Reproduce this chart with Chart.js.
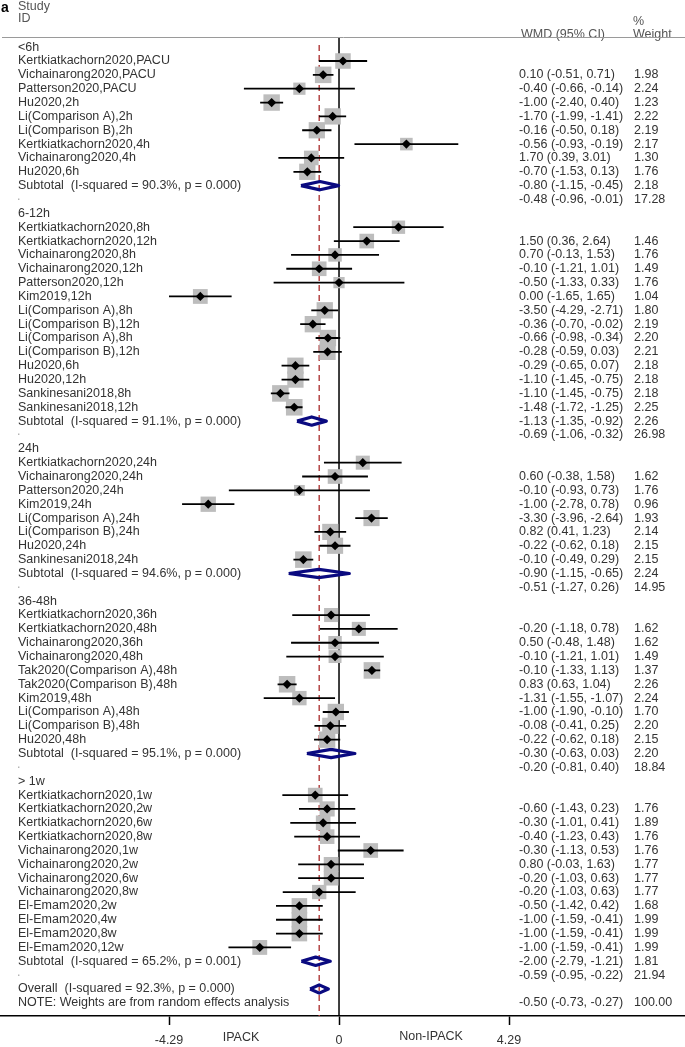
<!DOCTYPE html>
<html>
<head>
<meta charset="utf-8">
<script src="https://cdn.jsdelivr.net/npm/chart.js@4.4.1/dist/chart.umd.min.js"></script>
<style>
  html, body { margin: 0; padding: 0; background: #fff; }
  #wrap { position: relative; width: 685px; height: 1047px; }
</style>
</head>
<body>
<div id="wrap"><canvas id="forest" width="685" height="1047"></canvas></div>
<script>
// ---- data ----
var groupNames = ['<6h', '6-12h', '24h', '36-48h', '> 1w'];

var labelsA = ['Kertkiatkachorn2020,PACU', 'Vichainarong2020,PACU', 'Patterson2020,PACU', 'Hu2020,2h',
  'Li(Comparison A),2h', 'Li(Comparison B),2h', 'Kertkiatkachorn2020,4h', 'Vichainarong2020,4h', 'Hu2020,6h'];
var wmdA = [0.10, -0.40, -1.00, -1.70, -0.16, -0.56, 1.70, -0.70, -0.80];
var loA  = [-0.51, -0.66, -2.40, -1.99, -0.50, -0.93, 0.39, -1.53, -1.15];
var hiA  = [0.71, -0.14, 0.40, -1.41, 0.18, -0.19, 3.01, 0.13, -0.45];
var wtA  = [1.98, 2.24, 1.23, 2.22, 2.19, 2.17, 1.30, 1.76, 2.18];

var labelsB = ['Kertkiatkachorn2020,8h', 'Kertkiatkachorn2020,12h', 'Vichainarong2020,8h', 'Vichainarong2020,12h',
  'Patterson2020,12h', 'Kim2019,12h', 'Li(Comparison A),8h', 'Li(Comparison B),12h', 'Li(Comparison A),8h',
  'Li(Comparison B),12h', 'Hu2020,6h', 'Hu2020,12h', 'Sankinesani2018,8h', 'Sankinesani2018,12h'];
var wmdB = [1.50, 0.70, -0.10, -0.50, 0.00, -3.50, -0.36, -0.66, -0.28, -0.29, -1.10, -1.10, -1.48, -1.13];
var loB  = [0.36, -0.13, -1.21, -1.33, -1.65, -4.29, -0.70, -0.98, -0.59, -0.65, -1.45, -1.45, -1.72, -1.35];
var hiB  = [2.64, 1.53, 1.01, 0.33, 1.65, -2.71, -0.02, -0.34, 0.03, 0.07, -0.75, -0.75, -1.25, -0.92];
var wtB  = [1.46, 1.76, 1.49, 1.76, 1.04, 1.80, 2.19, 2.20, 2.21, 2.18, 2.18, 2.18, 2.25, 2.26];

var labelsC = ['Kertkiatkachorn2020,24h', 'Vichainarong2020,24h', 'Patterson2020,24h', 'Kim2019,24h',
  'Li(Comparison A),24h', 'Li(Comparison B),24h', 'Hu2020,24h', 'Sankinesani2018,24h'];
var wmdC = [0.60, -0.10, -1.00, -3.30, 0.82, -0.22, -0.10, -0.90];
var loC  = [-0.38, -0.93, -2.78, -3.96, 0.41, -0.62, -0.49, -1.15];
var hiC  = [1.58, 0.73, 0.78, -2.64, 1.23, 0.18, 0.29, -0.65];
var wtC  = [1.62, 1.76, 0.96, 1.93, 2.14, 2.15, 2.15, 2.24];

var labelsD = ['Kertkiatkachorn2020,36h', 'Kertkiatkachorn2020,48h', 'Vichainarong2020,36h', 'Vichainarong2020,48h',
  'Tak2020(Comparison A),48h', 'Tak2020(Comparison B),48h', 'Kim2019,48h', 'Li(Comparison A),48h',
  'Li(Comparison B),48h', 'Hu2020,48h'];
var wmdD = [-0.20, 0.50, -0.10, -0.10, 0.83, -1.31, -1.00, -0.08, -0.22, -0.30];
var loD  = [-1.18, -0.48, -1.21, -1.33, 0.63, -1.55, -1.90, -0.41, -0.62, -0.63];
var hiD  = [0.78, 1.48, 1.01, 1.13, 1.04, -1.07, -0.10, 0.25, 0.18, 0.03];
var wtD  = [1.62, 1.62, 1.49, 1.37, 2.26, 2.24, 1.70, 2.20, 2.15, 2.20];

var labelsE = ['Kertkiatkachorn2020,1w', 'Kertkiatkachorn2020,2w', 'Kertkiatkachorn2020,6w', 'Kertkiatkachorn2020,8w',
  'Vichainarong2020,1w', 'Vichainarong2020,2w', 'Vichainarong2020,6w', 'Vichainarong2020,8w',
  'El-Emam2020,2w', 'El-Emam2020,4w', 'El-Emam2020,8w', 'El-Emam2020,12w'];
var wmdE = [-0.60, -0.30, -0.40, -0.30, 0.80, -0.20, -0.20, -0.50, -1.00, -1.00, -1.00, -2.00];
var loE  = [-1.43, -1.01, -1.23, -1.13, -0.03, -1.03, -1.03, -1.42, -1.59, -1.59, -1.59, -2.79];
var hiE  = [0.23, 0.41, 0.43, 0.53, 1.63, 0.63, 0.63, 0.42, -0.41, -0.41, -0.41, -1.21];
var wtE  = [1.76, 1.89, 1.76, 1.76, 1.77, 1.77, 1.77, 1.68, 1.99, 1.99, 1.99, 1.81];

var subI2  = ['90.3%', '91.1%', '94.6%', '95.1%', '65.2%'];
var subP   = ['0.000', '0.000', '0.000', '0.000', '0.001'];
var subWmd = [-0.48, -0.69, -0.51, -0.20, -0.59];
var subLo  = [-0.96, -1.06, -1.27, -0.81, -0.95];
var subHi  = [-0.01, -0.32, 0.26, 0.40, -0.22];
var subWt  = [17.28, 26.98, 14.95, 18.84, 21.94];

var overallWmd = -0.50, overallLo = -0.73, overallHi = -0.27, overallWt = 100.00;
var overallI2 = '92.3%', overallP = '0.000';

var xTicks = [-4.29, 0, 4.29];

// ---- layout of rows (one row per line of the table) ----
var groups = [
  { labels: labelsA, wmd: wmdA, lo: loA, hi: hiA, wt: wtA },
  { labels: labelsB, wmd: wmdB, lo: loB, hi: hiB, wt: wtB },
  { labels: labelsC, wmd: wmdC, lo: loC, hi: hiC, wt: wtC },
  { labels: labelsD, wmd: wmdD, lo: loD, hi: hiD, wt: wtD },
  { labels: labelsE, wmd: wmdE, lo: loE, hi: hiE, wt: wtE }
];

var rows = [];
var r = 0;
groups.forEach(function (g, gi) {
  rows.push({ type: 'head', label: groupNames[gi], row: r++ });
  g.labels.forEach(function (lab, i) {
    rows.push({ type: 'study', label: lab, row: r++, est: g.wmd[i], lo: g.lo[i], hi: g.hi[i], wt: g.wt[i] });
  });
  rows.push({ type: 'sub', label: 'Subtotal  (I-squared = ' + subI2[gi] + ', p = ' + subP[gi] + ')', row: r++,
    est: subWmd[gi], lo: subLo[gi], hi: subHi[gi], wt: subWt[gi] });
  rows.push({ type: 'blank', label: '.', row: r++ });
});
rows.push({ type: 'sub', label: 'Overall  (I-squared = ' + overallI2 + ', p = ' + overallP + ')', row: r++,
  est: overallWmd, lo: overallLo, hi: overallHi, wt: overallWt });
rows.push({ type: 'note', label: 'NOTE: Weights are from random effects analysis', row: r++ });

var studyRows = rows.filter(function (d) { return d.type === 'study'; });
var poolRows = rows.filter(function (d) { return d.type === 'sub'; });

var yMin = -0.733, yMax = 69.95;
var xMin = -8.555, xMax = 8.731;

// CI whiskers as one broken line
var ciData = [];
studyRows.forEach(function (d) {
  ciData.push({ x: d.lo, y: d.row }, { x: d.hi, y: d.row }, { x: null, y: null });
});

// pooled diamonds
var dh = 0.3;
var diamondData = [];
poolRows.forEach(function (d) {
  diamondData.push({ x: d.lo, y: d.row }, { x: d.est, y: d.row - dh }, { x: d.hi, y: d.row },
    { x: d.est, y: d.row + dh }, { x: d.lo, y: d.row }, { x: null, y: null });
});

var FONT = "'Liberation Sans', Arial, sans-serif";
var TXT = '#333';

function fmt(v) { return v.toFixed(2); }

var tablePlugin = {
  id: 'tableText',
  afterDraw: function (chart) {
    var ctx = chart.ctx;
    var ys = chart.scales.y;
    ctx.save();
    ctx.textBaseline = 'middle';
    ctx.fillStyle = TXT;

    // header
    ctx.font = 'bold 14px ' + FONT;
    ctx.fillStyle = '#000';
    ctx.fillText('a', 1, 8);
    ctx.font = '12.5px ' + FONT;
    ctx.fillStyle = '#555';
    ctx.fillText('Study', 18, 7);
    ctx.fillText('ID', 18, 19);
    ctx.fillText('%', 633, 22);
    ctx.fillText('WMD (95% CI)', 521, 35);
    ctx.fillText('Weight', 633, 35);

    ctx.strokeStyle = '#9a9a9a';
    ctx.lineWidth = 1;
    ctx.beginPath();
    ctx.moveTo(2, 37.5);
    ctx.lineTo(685, 37.5);
    ctx.stroke();

    // left labels
    ctx.fillStyle = TXT;
    rows.forEach(function (d) {
      var y = ys.getPixelForValue(d.row);
      if (d.type === 'blank') {
        ctx.fillStyle = '#aaa';
        ctx.fillText(d.label, 17, y - 3);
        ctx.fillStyle = TXT;
      } else {
        ctx.fillText(d.label, 18, y);
      }
    });

    // right columns: printed one line below each estimate
    rows.forEach(function (d) {
      if (d.type !== 'study' && d.type !== 'sub') return;
      var y = ys.getPixelForValue(d.row + 1);
      ctx.fillText(fmt(d.est) + ' (' + fmt(d.lo) + ', ' + fmt(d.hi) + ')', 519, y);
      ctx.fillText(fmt(d.wt), 634, y);
    });

    // favours labels
    ctx.textAlign = 'center';
    ctx.fillText('IPACK', 241, 1038);
    ctx.fillText('Non-IPACK', 431, 1037);
    ctx.restore();
  }
};

new Chart(document.getElementById('forest'), {
  type: 'scatter',
  data: {
    datasets: [
      {
        type: 'scatter',
        data: studyRows.map(function (d) { return { x: d.est, y: d.row }; }),
        pointStyle: 'rectRot',
        pointRadius: 4.6,
        backgroundColor: '#000',
        borderWidth: 0
      },
      {
        type: 'line',
        data: ciData,
        borderColor: '#000',
        borderWidth: 1.8,
        pointRadius: 0,
        spanGaps: false,
        fill: false
      },
      {
        type: 'scatter',
        data: studyRows.map(function (d) { return { x: d.est, y: d.row }; }),
        pointStyle: 'rect',
        pointRadius: studyRows.map(function (d) { return 7.8 * Math.sqrt(d.wt); }),
        backgroundColor: '#bdbdbd',
        borderWidth: 0
      },
      {
        type: 'line',
        data: diamondData,
        borderColor: '#0a0a80',
        borderWidth: 3.2,
        borderJoinStyle: 'round',
        pointRadius: 0,
        spanGaps: false,
        fill: false
      },
      {
        type: 'line',
        data: [{ x: overallWmd, y: -0.15 }, { x: overallWmd, y: yMax }],
        borderColor: '#b03a3a',
        borderWidth: 1.4,
        borderDash: [6, 4],
        pointRadius: 0
      },
      {
        type: 'line',
        data: [{ x: 0, y: yMin }, { x: 0, y: yMax }],
        borderColor: '#000',
        borderWidth: 1.5,
        pointRadius: 0
      }
    ]
  },
  options: {
    responsive: false,
    animation: false,
    devicePixelRatio: 1,
    layout: { autoPadding: false, padding: { top: 37, left: 0, right: 0, bottom: 0 } },
    plugins: { legend: { display: false }, tooltip: { enabled: false } },
    scales: {
      x: {
        type: 'linear',
        min: xMin,
        max: xMax,
        afterBuildTicks: function (scale) {
          scale.ticks = xTicks.map(function (v) { return { value: v }; });
        },
        afterFit: function (scale) { scale.height = 31; },
        ticks: {
          color: TXT,
          font: { family: FONT, size: 12.5 },
          padding: 8,
          maxRotation: 0,
          callback: function (v) { return v === 0 ? '0' : v.toFixed(2); }
        },
        grid: {
          drawOnChartArea: false,
          drawTicks: true,
          tickLength: 9,
          tickColor: '#000',
          tickWidth: 1.5
        },
        border: { display: true, color: '#000', width: 1.5 }
      },
      y: {
        type: 'linear',
        reverse: true,
        min: yMin,
        max: yMax,
        display: false
      }
    }
  },
  plugins: [tablePlugin]
});
</script>
</body>
</html>
